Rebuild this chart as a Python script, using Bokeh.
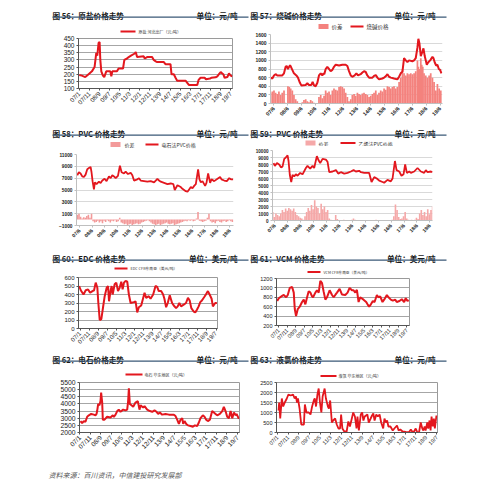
import math
from bokeh.plotting import figure
from bokeh.models import Range1d, FixedTicker, Label, BoxAnnotation
from bokeh.layouts import column, row
from bokeh.embed import file_html
from bokeh.resources import INLINE

CJK = "Noto Sans CJK SC"
SANS = "Liberation Sans"
RED = "#E3171E"
RULE = "#3A5877"

# ---------------- data (x = months since 2007/1) ----------------
ten_month_ticks = [0, 10, 20, 30, 40, 50, 60, 70, 80, 90, 100, 110, 120, 130, 140, 150]
ten_month_labels = ["07/1", "07/11", "08/9", "09/7", "10/5", "11/3", "12/1", "12/11",
                    "13/9", "14/7", "15/5", "16/3", "17/1", "17/11", "18/9", "19/7"]
year_ticks = [5, 17, 29, 41, 53, 65, 77, 89, 101, 113, 125, 137, 149]
year_labels = ["07/6", "08/6", "09/6", "10/6", "11/6", "12/6", "13/6",
               "14/6", "15/6", "16/6", "17/6", "18/6", "19/6"]

salt_m = [0, 2.6, 6, 9.3, 12.6, 15.2, 16.9, 17.9, 19.2, 20.2, 20.9, 21.9, 23.5, 24.8, 26.8, 30.8, 31.8, 32.8,
          37.4, 39, 43.4, 44.7, 47.4, 49, 51.3, 55, 56, 57.3, 63.9, 64.9, 67.2, 72.2, 73.8, 75.8, 77.2, 83.8,
          85.4, 90.4, 91.4, 93.7, 95.4, 97, 105.3, 107, 108.6, 116.9, 118.2, 120.2, 124.2, 125.5, 129.5, 130.8,
          135.1, 136.8, 138.4, 140.1, 141.7, 142.7, 144, 146.7, 148.3, 150, 151.6]
salt_v = [195, 190, 180, 200, 220, 250, 350, 330, 420, 425, 300, 220, 190, 180, 220, 220, 185, 220,
          220, 240, 240, 300, 310, 320, 330, 345, 355, 320, 325, 310, 320, 320, 300, 290, 285, 285,
          270, 270, 200, 200, 175, 155, 155, 140, 125, 125, 160, 175, 175, 165, 170, 175,
          178, 185, 200, 215, 205, 200, 175, 180, 205, 190, 185]

caustic_m = [2.1, 3.6, 5, 6.4, 7.9, 12.2, 13.7, 15.1, 16, 17.1, 18.9, 19.7, 20.9, 22.3, 24.4, 25.8, 27.5, 28.7,
             32.5, 33.9, 35.3, 37.4, 38.5, 39.7, 41.1, 42.6, 44, 45.5, 46.9, 47.8, 48.6, 49.8, 51.2, 52.7,
             54.1, 55.6, 57, 58.5, 61.4, 64.2, 67.1, 68.6, 70, 71.5, 72.9, 74.9, 76.4, 77.8, 80.1, 81.6, 83,
             84.5, 85.9, 87.4, 90.3, 91.7, 93.2, 94.6, 96, 98.9, 100.4, 101.8, 103.3, 104.7, 106.2, 109,
             111.9, 113.4, 114.8, 116.3, 117.7, 119.2, 120.6, 122, 124.9, 126.4, 127.8, 129.3, 130.1, 131,
             132.2, 133.6, 134.5, 135.6, 137.4, 138.5, 140.3, 142.3, 143.2, 144.3, 145.5, 146.6, 147.8,
             148.9, 150.1]
caustic_v = [600, 580, 650, 680, 650, 650, 700, 850, 870, 800, 890, 850, 780, 700, 650, 600, 480, 420,
             430, 470, 430, 430, 500, 420, 400, 480, 650, 700, 650, 700, 680, 800, 850, 800,
             750, 780, 850, 900, 880, 900, 900, 870, 750, 650, 620, 650, 700, 650, 680, 720, 750,
             730, 650, 600, 600, 640, 660, 600, 560, 580, 600, 630, 680, 620, 600, 580,
             560, 620, 700, 740, 1050, 1000, 960, 1000, 980, 1000, 1050, 1300, 1500, 1400,
             1100, 1200, 1280, 1100, 900, 950, 1000, 1080, 1050, 950, 880, 900, 800,
             780, 700]
caustic_spread_m = [2, 3.6, 5, 6.4, 7.9, 9.3, 10.8, 12.2, 13.7, 14.8, 16, 17.1, 18.3, 19.5, 20.9, 22.3, 23.8,
                    25.2, 26.7, 28.1, 29.6, 31, 32.5, 33.9, 35.3, 36.8, 38.2, 39.7, 41.1, 42.6, 44, 45.5,
                    46.9, 48.4, 49.8, 51.2, 52.7, 54.1, 55.6, 57, 58.5, 59.9, 61.4, 62.8, 64.2, 65.7, 67.1,
                    68.6, 70, 71.5, 72.9, 74.4, 75.8, 77.3, 78.7, 80.1, 81.6, 83, 84.5, 85.9, 87.4, 88.8,
                    90.3, 91.7, 93.2, 94.6, 96, 97.5, 98.9, 100.4, 101.8, 103.3, 104.7, 106.2, 107.6, 109,
                    110.5, 111.9, 113.4, 114.8, 116.3, 117.7, 119.2, 120.6, 122, 123.5, 124.9, 126.4,
                    127.8, 129.3, 130.1, 131, 132.2, 133, 133.9, 135, 136.5, 137.9, 139.4, 140.8, 142.3,
                    143.7, 145.2, 146.6, 148.1, 149.5]
caustic_spread_v = [250, 280, 300, 250, 220, 280, 200, 250, 300, 20, 0, 400, 380, 350, 300, 200, 100,
                    50, 0, 0, 30, 80, 100, 50, 30, 80, 50, 20, 0, 0, 150, 200,
                    120, 180, 300, 250, 280, 200, 300, 350, 320, 300, 380, 400, 380, 350, 250,
                    150, 50, 100, 200, 220, 180, 250, 220, 200, 230, 250, 220, 200, 150, 180,
                    220, 250, 300, 200, 250, 300, 280, 350, 320, 400, 380, 350, 380, 400,
                    350, 380, 500, 600, 800, 700, 650, 700, 680, 700, 680, 700,
                    750, 1000, 850, 800, 1050, 900, 850, 700, 650, 600, 650, 700, 600,
                    500, 300, 450, 350, 300]

spread_m = [3, 4.5, 6, 7.5, 9, 10.5, 12, 13.5, 15, 16.5, 18, 19.5, 21, 22.5, 24, 25.5, 27, 28.5, 30, 31.5,
            33, 34.5, 36, 37.5, 39, 40.5, 42, 43.5, 45, 46.5, 48, 49.5, 51, 52.5, 54, 55.5, 57, 58.5, 60,
            61.5, 63, 64.5, 66, 67.5, 69, 70.5, 72, 73.5, 75, 76.5, 78, 79.5, 81, 82.5, 84, 85.5, 87, 88.5,
            90, 91.5, 93, 94.5, 96, 97.5, 99, 100.5, 102, 103.5, 105, 106.5, 108, 109.5, 111, 112.5, 114,
            115.5, 117, 118.5, 120, 121.5, 123, 124.5, 126, 127.5, 129, 130.5, 132, 133.5, 135, 136.5, 138,
            139.5, 141, 142.5, 144, 145.5, 147, 148.5, 150, 151.5]

pvc_c_m = [2.8, 4.4, 6, 7.6, 9.2, 10.8, 12.4, 14, 15.6, 16.5, 17.5, 18.8, 19.7, 21.3, 23.6, 25.2, 26.8, 29,
           30.9, 33.2, 34.8, 36.4, 38, 39.6, 41.8, 43.7, 45.3, 47.6, 49.2, 51.4, 54, 55.6, 57.2, 60.4, 62,
           63.6, 66.8, 70, 73.2, 76.4, 78, 79.6, 81.2, 82.8, 86, 89.2, 92.4, 94.9, 96.2, 98.8, 102, 103.6,
           106.8, 108.4, 110, 111.6, 113.2, 114.8, 116.4, 118.6, 119.9, 121.2, 122.8, 124.4, 125.3, 126.6,
           128.2, 130.1, 131.4, 134, 137.2, 139.7, 141, 143.6, 146.1, 148.4, 150, 152.2]
pvc_c_v = [7500, 8000, 7800, 7300, 7200, 7600, 8500, 8700, 8900, 8000, 6500, 5100, 6300, 6000, 6400, 6200,
           6600, 6900, 6500, 7300, 7000, 7500, 7300, 7000, 7400, 9100, 8000, 7800, 8100, 7700, 7900, 7500,
           6600, 6800, 7000, 6600, 6500, 6400, 6500, 6300, 6600, 6900, 6600, 6400, 6200, 6000, 6100, 6000,
           5000, 5800, 5500, 5200, 4800, 4700, 5100, 5500, 5300, 5700, 6000, 8500, 6800, 6300, 6500, 6000,
           5700, 6200, 7800, 6200, 6800, 6500, 6900, 7200, 6800, 6600, 6500, 7000, 6800, 6800]
pvc_c_spread = [800, 1000, 500, 200, 400, 300, 600, 800, 300, 1000,
                -300, -500, -400, -200, -500, -300, -600, -200, -400, -100,
                -300, -500, -200, -300, -100, -400, -300, 300, -500, -600,
                -800, -700, -900, -800, -700, -900, -800, -700, -600, -800,
                -700, -500, -400, -300, -200, -100, -300, -500, -700, -800,
                -900, -800, -700, -900, -800, -700, -600, -500, -700, -800,
                -700, -600, -900, -800, -700, -600, -500, -400, -300, -200,
                -300, -100, -200, -100, -300, -200, 200, 1300, -200, -300,
                -400, -300, -200, 300, 1000, -300, -500, -400, -600, -300,
                -200, -400, -500, -300, -200, -400, -300, -100, -300, -400]

pvc_e_m = [3.8, 5, 6.9, 9, 10.6, 12.1, 13.7, 15.2, 16.8, 17.7, 18.9, 20.2, 21.4, 23, 24.5, 26.1, 28.5, 30.7,
           33.8, 35.3, 37.8, 40, 41.5, 44, 45.6, 47.1, 49.3, 52.4, 53.9, 55.5, 58.6, 61.7, 63.8, 66.3, 69.4,
           72.5, 75.6, 78.1, 80.2, 83.3, 84.9, 88, 92.6, 94.8, 97.3, 99.7, 101.9, 105, 106.5, 109.6, 112.7,
           114.3, 116.5, 118, 120.5, 122.6, 124.5, 126, 127.6, 129.8, 131.3, 134.4, 137.5, 140.6, 143.7,
           145.2, 146.8, 149.9, 151.4]
pvc_e_v = [8200, 7800, 8200, 8000, 7600, 7700, 8800, 9000, 9300, 8500, 6500, 5500, 6500, 6300, 6600, 6400,
           6800, 6600, 7500, 7800, 7400, 7800, 7500, 9200, 8600, 8200, 8800, 8700, 8400, 6900, 7000, 7200,
           6700, 6900, 6700, 6800, 7000, 7200, 7000, 7100, 6900, 6800, 6800, 5500, 6200, 6000, 5700, 5500,
           5400, 5800, 5600, 6000, 8500, 7200, 7000, 6400, 6600, 8000, 6800, 7000, 6800, 7000, 7500, 7000,
           6800, 7200, 6900, 7000, 6900]
pvc_e_spread = [1200, 500, 1000, 800, 600, 1000, 1500, 1200, 1700, 1400,
                1800, 1600, 1400, 1700, 1200, 800, 600, 400, 300, 100,
                600, 1200, 1800, 1400, 2200, 1600, 2900, 2000, 1800, 1000,
                2400, 1600, 2000, 1200, 1500, 300, 100, 50, 0, 800,
                200, 0, 50, 0, 100, 30, 0, 50, 0, 100,
                300, 100, 0, 50, 0, 30, 0, 50, 80, 0,
                30, 0, 50, 0, 100, 50, 0, 30, 0, 50,
                0, 80, 0, 30, 100, 600, 2300, 1500, 500, 200,
                300, 600, 1200, 300, 100, 50, 100, 0, 100, 400,
                200, 1000, 1500, 800, 1200, 600, 1600, 900, 1500, 2000]

edc_m = [-1.1, 0.7, 3.7, 6.2, 8.8, 11, 13.6, 15.4, 17.2, 19, 20.1, 21.6, 23.4, 25.3, 27.1, 29.3, 30.8, 31.9,
         33.7, 34.8, 35.9, 38.1, 39.9, 41.8, 43.6, 45.4, 46.9, 48.4, 50.2, 52, 53.8, 55.7, 59.3, 61.2, 63,
         64.8, 67.4, 71.1, 72.9, 75.8, 77.7, 80.6, 83.2, 85, 86.8, 89.4, 91.6, 93, 94.9, 96.7, 98.9, 101.5,
         103.3, 105.9, 107.7, 109.5, 111.4, 114.3, 116.8, 119, 120.9, 122.7, 125.3, 127.1, 128.9, 130.8,
         132.6, 134.4, 137, 138.8, 141, 142.9, 145.1, 146.5, 149.1, 150.9]
edc_v = [500, 450, 400, 450, 460, 420, 440, 450, 540, 480, 300, 100, 110, 250, 380, 480, 500, 320,
         450, 500, 400, 520, 540, 440, 480, 550, 460, 540, 560, 550, 400, 300, 310, 320, 190,
         250, 270, 420, 360, 380, 350, 400, 500, 490, 440, 440, 400, 350, 250, 300, 390, 300,
         270, 240, 260, 300, 260, 280, 300, 360, 330, 240, 200, 190, 220, 260,
         310, 330, 370, 400, 440, 400, 350, 260, 300, 300]

vcm_m = [-1.9, 0, 3.9, 5.8, 8.6, 10.5, 12.8, 15.6, 17.5, 18.7, 20.2, 22.2, 24.5, 27.2, 29.2, 31.1, 33.1, 35,
         37, 38.9, 40.1, 42.8, 44.7, 46.7, 48.6, 50.6, 52.5, 54.5, 56.4, 59.5, 62.3, 64.2, 66.1, 68.1, 71.2,
         73.9, 77.8, 80.5, 82.9, 85.6, 87.5, 89.5, 91.4, 93.4, 95.3, 99.2, 102.3, 103.9, 105.8, 107.8, 110.1,
         112.1, 114.8, 116.7, 118.7, 121.4, 123.3, 126.5, 128.4, 131.1, 133.5, 136.2, 138.1, 141.2, 144,
         146.7, 148.6, 150.6, 152.1]
vcm_v = [720, 780, 830, 850, 800, 850, 1000, 1020, 900, 550, 400, 550, 600, 700, 750, 650, 800, 930,
         900, 820, 800, 900, 950, 900, 1150, 1100, 920, 750, 800, 950, 850, 800, 850, 900, 980,
         860, 850, 900, 1000, 950, 950, 900, 960, 700, 800, 750, 700, 650, 600, 650, 720,
         700, 850, 800, 820, 700, 750, 850, 800, 750, 730, 750, 700, 720, 760,
         700, 780, 720, 740]

carbide_m = [0.6, 2.2, 3.8, 5.4, 7, 8.6, 10.8, 13.3, 14.9, 15.9, 16.5, 17.5, 18.7, 19.7, 20.3, 21.3, 21.9,
             23.5, 26, 29.2, 31.4, 32.4, 34, 35.6, 37.1, 38.7, 41.3, 43.5, 45.1, 46, 46.7, 47.6, 49.2, 50.8,
             53, 55.2, 56.8, 57.8, 60.3, 61.6, 64.1, 66.7, 68.9, 71.1, 73, 74.6, 76.2, 78.4, 81.6, 84.8,
             89.5, 91.1, 92.7, 94.3, 95.9, 97.5, 98.4, 99.7, 101.3, 102.9, 105.4, 107.6, 109.5, 111.7,
             113.3, 114.9, 117.1, 118.7, 120.3, 121.9, 123.8, 126, 127.6, 129.2, 130.8, 133.3, 135.6,
             137.1, 138.7, 140.3, 141.9, 143.5, 145.1, 146.7, 148.3, 149.2, 151.4]
carbide_v = [2800, 2650, 2800, 2750, 3100, 3200, 3300, 3250, 3200, 3300, 3500, 4000, 3900, 4200, 4800, 4100,
             2900, 2900, 3100, 3050, 3200, 3100, 3250, 3500, 3600, 3450, 3600, 3550, 3600, 4200, 5100, 4000,
             3900, 3800, 4100, 4200, 3600, 3900, 3750, 3850, 3600, 3500, 3450, 3550, 3450, 3300, 3400, 3250,
             3300, 3250, 3250, 3150, 2900, 2600, 2900, 3000, 2600, 2800, 2600, 2500, 2450, 2400, 2500, 2450,
             2700, 3000, 3200, 3100, 2900, 2800, 2900, 3500, 3400, 3300, 3200, 3300, 3500, 3800, 3500, 3100,
             3000, 3500, 3000, 3400, 3200, 3300, 2950]

chlor_m = [0.9, 1.5, 2.5, 4, 5.3, 6.8, 8.7, 10.2, 12.4, 14.6, 16.1, 17.3, 18.3, 19.2, 20.7, 22.3, 23.8, 24.8,
           25.7, 27.2, 29.4, 31, 32.5, 34.1, 35, 36.2, 37.5, 38.7, 39.9, 41.2, 42.4, 44.3, 45.5, 47.4, 48.3,
           49.5, 51.1, 52.3, 54.2, 55.7, 57.3, 58.8, 59.8, 61, 62.8, 65, 66.6, 68.1, 71.2, 72.8, 74.3, 75.2,
           76.5, 78.3, 79.6, 80.8, 82, 84.5, 85.8, 87.6, 88.9, 90.1, 91.3, 92.9, 94.4, 96, 97.5, 99.4, 100.6,
           101.9, 103.1, 104.3, 106.2, 108.4, 109.9, 112.4, 113.9, 115.5, 117.6, 120.7, 123.8, 125.4, 126.9,
           128.5, 130, 131.6, 133.1, 134.7, 136.2, 137.2, 138.4, 139.3, 140.9, 141.8, 143, 144, 144.9, 146.1,
           147.1, 148, 149.5]
chlor_v = [1100, 1500, 700, 1700, 1300, 1500, 1700, 1900, 1850, 1900, 1700, 1800, 1500, 1700, 1200, 400, 400,
           400, 1400, 1000, 1000, 900, 1300, 1600, 1700, 1300, 1900, 2200, 1500, 1000, 1800, 2200, 1700, 1300,
           1200, 1600, 500, 600, 700, 400, 200, 200, 900, 200, 50, 50, 550, 300, 1000, 800, 200, 800, 100,
           900, 1000, 600, 800, 900, 500, 700, 850, 950, 600, 900, 800, 900, 500, 200, 700, 500, 600, 300,
           300, 100, 200, 350, 100, 150, 50, 30, 20, 150, 30, 50, 200, 0, 0, 500, 200, 100, 300, 100, 500,
           200, 600, 100, 800, 300, 700, 200, 850]


# ---------------- helpers ----------------
class Strip:
    """A decoration-only figure whose frame is the whole canvas; coordinates are page pixels."""

    def __init__(self, ox, oy, W, H):
        self.ox, self.oy = ox, oy
        s = figure(width=W, height=H, title=None, output_backend="svg", toolbar_location=None,
                   x_range=Range1d(0, W), y_range=Range1d(H, 0),
                   x_axis_location=None, y_axis_location=None, frame_align=False,
                   min_border_left=0, min_border_right=0, min_border_top=0, min_border_bottom=0)
        s.grid.visible = False
        s.outline_line_color = None
        s.background_fill_color = "white"
        s.border_fill_color = "white"
        self.p = s

    def text(self, ax, ay, txt, size, color="#1A1A1A", align="left", baseline="alphabetic",
             style="normal", font=CJK):
        self.p.add_layout(Label(x=ax - self.ox, y=ay - self.oy, x_units="data", y_units="data", text=txt,
                                text_font=font, text_font_size=f"{size}px", text_color=color,
                                text_align=align, text_baseline=baseline, text_font_style=style))

    def box(self, ax0, ax1, ay0, ay1, color):
        self.p.add_layout(BoxAnnotation(left=ax0 - self.ox, right=ax1 - self.ox,
                                        top=ay0 - self.oy, bottom=ay1 - self.oy,
                                        fill_color=color, fill_alpha=1, line_alpha=0))

    def header(self, col, row_top, title, unit):
        if col == 0:
            x0, x1, xu = 52, 248, 237
        else:
            x0, x1, xu = 250, 446, 435
        self.text(x0, row_top + 6.6, title, 7.6, style="bold")
        self.text(xu, row_top + 6.6, unit, 7.6, align="right", style="bold")
        self.box(x0, x1, row_top + 7.9, row_top + 9.2, RULE)

    def legend(self, items, cy, size):
        # items: (kind, label, color, glyph x0, glyph x1, text x)
        for kind, lbl, color, gx0, gx1, tx in items:
            h = 2.6 if kind == "rect" else 0.9
            self.box(gx0, gx1, cy - h, cy + h, color)
            self.text(tx, cy + 0.3, lbl, size, color="#333333", baseline="middle")


def make_plot(ox, top, W, bottom, frame, xr, yr, yticks, xticks, xlabels, ysize, xsize, bold,
              outline, grid_color, axis_color):
    fl, fr, ft, fb = frame
    p = figure(width=W, height=bottom - top, title=None, output_backend="svg", toolbar_location=None,
               x_range=Range1d(*xr), y_range=Range1d(*yr), frame_align=False,
               min_border_left=fl - ox, min_border_right=ox + W - fr,
               min_border_top=ft - top, min_border_bottom=bottom - fb)
    p.background_fill_color = "white"
    p.border_fill_color = "white"
    p.outline_line_color = outline
    p.outline_line_width = 1
    p.xgrid.visible = False
    yt = FixedTicker(ticks=yticks)
    p.yaxis.ticker = yt
    p.ygrid.ticker = yt
    p.ygrid.grid_line_color = grid_color
    p.ygrid.grid_line_width = 1
    xt = FixedTicker(ticks=xticks)
    p.xaxis.ticker = xt
    p.xaxis.major_label_overrides = dict(zip(xticks, xlabels))
    p.xaxis.major_label_orientation = math.pi / 4
    for ax, sz in ((p.xaxis, xsize), (p.yaxis, ysize)):
        ax.axis_line_color = axis_color
        ax.major_tick_line_color = axis_color
        ax.major_tick_out = 2
        ax.major_tick_in = 0
        ax.minor_tick_line_color = None
        ax.major_label_standoff = 2
        ax.major_label_text_font = SANS
        ax.major_label_text_font_size = f"{sz}px"
        ax.major_label_text_color = "#222222"
        ax.major_label_text_font_style = "bold" if bold else "normal"
    return p


GRID_A = "#A6A6A6"
GRID_B = "#D9D9D9"
OUT = "#9A9A9A"
BAR57 = "#F4827E"
BAR58 = "#F39A9A"
BAR59 = "#F5A8A8"

# page-pixel layout (Bokeh's page template has no body margin, so the layout starts at 0,0)
C0, C1, C_END = 0, 249, 492
W0, W1 = C1 - C0, C_END - C1
R1, R2, R3, R4, R5, R_END = 0, 126, 251, 352, 462, 480

# ---- 56 salt ----
s = Strip(C0, R1, W0, 34 - R1)
s.header(0, 8, "图 56：原盐价格走势", "单位：元/吨")
s.legend([("line", "原盐 河北出厂（元/吨）", RED, 120, 135, 138)], 31, 4)
p = make_plot(C0, 34, W0, R2, (78, 232, 38, 88), (-0.7, 151.8), (100, 450), list(range(100, 451, 50)),
              ten_month_ticks, ten_month_labels, 6.5, 6.2, False, OUT, GRID_A, "#555555")
p.line(salt_m, salt_v, line_color=RED, line_width=2)
col56 = column(s.p, p)

# ---- 57 caustic soda ----
s = Strip(C1, R1, W1, 30 - R1)
s.header(1, 8, "图 57：烧碱价格走势", "单位：元/吨")
s.legend([("rect", "价差", BAR57, 318, 328, 331), ("line", "烧碱价格", RED, 350, 363, 366)], 26, 5.5)
p = make_plot(C1, 30, W1, R2, (270, 442, 34, 103), (2, 151), (0, 1600), list(range(0, 1601, 200)),
              year_ticks, year_labels, 5, 5.3, True, None, GRID_B, "#BFBFBF")
p.vbar(x=caustic_spread_m, top=caustic_spread_v, bottom=0, width=1.5, fill_color=BAR57, line_color=None)
p.line(caustic_m, caustic_v, line_color=RED, line_width=2)
col57 = column(s.p, p)

# ---- 58 PVC (carbide route) ----
s = Strip(C0, R2, W0, 150 - R2)
s.header(0, R2, "图 58：PVC 价格走势", "单位：元/吨")
s.legend([("rect", "价差", BAR58, 110, 120, 124), ("line", "电石法PVC价格", RED, 145, 158, 161)], 144, 5)
p = make_plot(C0, 150, W0, R3, (76, 233, 154, 225), (2.1, 152.5), (-1000, 11000),
              list(range(-1000, 11001, 2000)), year_ticks, year_labels, 4.8, 5, True, None, GRID_B, "#BFBFBF")
p.vbar(x=spread_m, top=pvc_c_spread, bottom=0, width=1.5, fill_color=BAR58, line_color=None)
p.line(pvc_c_m, pvc_c_v, line_color=RED, line_width=1.8)
col58 = column(s.p, p)

# ---- 59 PVC (ethylene route) ----
s = Strip(C1, R2, W1, 146 - R2)
s.header(1, R2, "图 59：PVC 价格走势", "单位：元/吨")
s.legend([("rect", "价差", BAR59, 305, 315, 318), ("line", "乙烯法PVC价格", RED, 340, 355, 358)], 142.5, 5)
p = make_plot(C1, 146, W1, R3, (272, 432, 150, 220), (2.8, 151.4), (0, 10000), list(range(0, 10001, 1000)),
              year_ticks, year_labels, 4.6, 5, True, None, GRID_B, "#BFBFBF")
p.vbar(x=spread_m, top=pvc_e_spread, bottom=0, width=1.5, fill_color=BAR59, line_color=None)
p.line(pvc_e_m, pvc_e_v, line_color=RED, line_width=1.8)
col59 = column(s.p, p)

# ---- 60 EDC ----
s = Strip(C0, R3, W0, 273 - R3)
s.header(0, R3, "图 60：EDC 价格走势", "单位：美元/吨")
s.legend([("line", "EDC CFR东南亚（美元/吨）", RED, 114, 127, 130)], 268, 3.8)
p = make_plot(C0, 273, W0, R4, (78, 217, 277, 328), (-1.8, 151.6), (0, 600), list(range(0, 601, 100)),
              ten_month_ticks, ten_month_labels, 6, 6, False, OUT, GRID_A, "#555555")
p.line(edc_m, edc_v, line_color=RED, line_width=2)
col60 = column(s.p, p)

# ---- 61 VCM ----
s = Strip(C1, R3, W1, 275 - R3)
s.header(1, R3, "图 61：VCM 价格走势", "单位：美元/吨")
s.legend([("line", "VCM CFR东南亚（美元/吨）", RED, 307, 320, 323)], 271.5, 3.7)
p = make_plot(C1, 275, W1, R4, (276, 409, 278, 325), (-2.7, 153), (200, 1200), list(range(200, 1201, 200)),
              ten_month_ticks, ten_month_labels, 5.5, 5.5, False, OUT, GRID_A, "#555555")
p.line(vcm_m, vcm_v, line_color=RED, line_width=2)
col61 = column(s.p, p)

# ---- 62 calcium carbide ----
s = Strip(C0, R4, W0, 378 - R4)
s.header(0, R4, "图 62：电石价格走势", "单位：元/吨")
s.legend([("line", "电石 华东地区（元/吨）", RED, 125, 142, 144)], 374, 4)
p = make_plot(C0, 378, W0, R5, (79, 239, 382, 432), (-0.3, 152), (2000, 5500), list(range(2000, 5501, 500)),
              ten_month_ticks, ten_month_labels, 6.8, 6.4, False, OUT, GRID_A, "#555555")
p.line(carbide_m, carbide_v, line_color=RED, line_width=2)
col62 = column(s.p, p)

# ---- 63 liquid chlorine ----
s = Strip(C1, R4, W1, 379 - R4)
s.header(1, R4, "图 63：液氯价格走势", "单位：元/吨")
s.legend([("line", "液氯 华东地区（元/吨）", RED, 320, 336, 338)], 375.5, 4)
p = make_plot(C1, 379, W1, R5, (276, 437, 382, 432), (-1, 150.5), (0, 2500), list(range(0, 2501, 500)),
              ten_month_ticks, ten_month_labels, 5.5, 5.5, False, OUT, GRID_A, "#555555")
p.line(chlor_m, chlor_v, line_color=RED, line_width=1.8)
col63 = column(s.p, p)

# ---- source note ----
note = Strip(C0, R5, W0 + W1, R_END - R5)
note.text(48, 474.5, "资料来源：百川资讯，中信建投研究发展部", 7, color="#555555", baseline="middle",
          style="italic")

layout = column(row(col56, col57), row(col58, col59), row(col60, col61), row(col62, col63), note.p)
open("out.html", "w").write(file_html(layout, INLINE))
